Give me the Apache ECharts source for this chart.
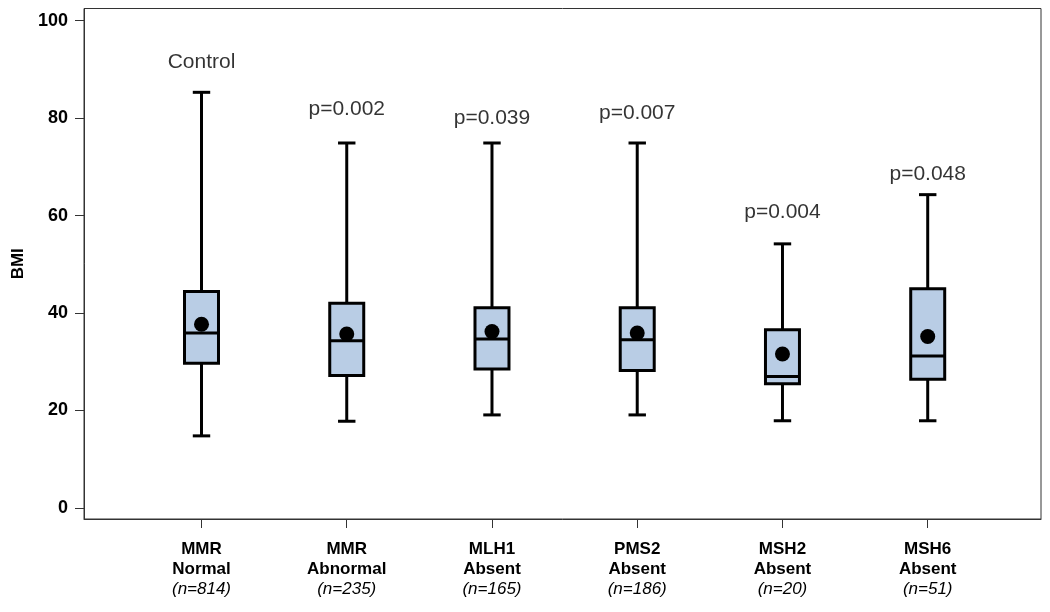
<!DOCTYPE html>
<html>
<head>
<meta charset="utf-8">
<script src="https://cdn.jsdelivr.net/npm/echarts@6/dist/echarts.min.js"></script>
<style>
html,body{margin:0;padding:0;background:#fff;}
#chart{width:1050px;height:612px;}
</style>
</head>
<body>
<div id="chart"></div>
<script>
// ---- data ----
const groupLine1 = ['MMR', 'MMR', 'MLH1', 'PMS2', 'MSH2', 'MSH6'];
const groupLine2 = ['Normal', 'Abnormal', 'Absent', 'Absent', 'Absent', 'Absent'];
const nCounts = [814, 235, 165, 186, 20, 51];
const whiskerLow = [14.8, 17.8, 19.1, 19.1, 17.9, 17.9];
const q1 = [29.7, 27.2, 28.5, 28.2, 25.5, 26.4];
const median = [35.9, 34.3, 34.7, 34.5, 27.0, 31.2];
const q3 = [44.4, 42.0, 41.1, 41.1, 36.6, 45.0];
const whiskerHigh = [85.3, 74.9, 74.9, 74.9, 54.2, 64.3];
const means = [37.7, 35.7, 36.2, 35.9, 31.6, 35.2];
const pLabels = ['Control', 'p=0.002', 'p=0.039', 'p=0.007', 'p=0.004', 'p=0.048'];
const pLabelY = [91.4, 81.9, 80.0, 81.0, 60.8, 68.4];
const yTicks = [0, 20, 40, 60, 80, 100];

const idx = groupLine1.map((_, i) => i);
const boxData = idx.map(i => [i, whiskerLow[i], q1[i], median[i], q3[i], whiskerHigh[i]]);
const meanData = idx.map(i => [i, means[i]]);
const pData = idx.map(i => [i, pLabelY[i]]);

const FONT = '"Liberation Sans", Arial, sans-serif';
const chart = echarts.init(document.getElementById('chart'));

chart.setOption({
  animation: false,
  backgroundColor: '#fff',
  grid: { left: 84, right: 9, top: 8.5, bottom: 93, show: true, borderColor: '#333', borderWidth: 1, containLabel: false },
  xAxis: {
    type: 'value', min: -0.809, max: 5.78,
    splitLine: { show: false },
    axisLine: { show: true, onZero: false, lineStyle: { color: '#333', width: 1 } },
    axisTick: { show: true, customValues: idx, length: 9, inside: false, lineStyle: { color: '#333' } },
    axisLabel: {
      customValues: idx, margin: 20,
      formatter: function (v) {
        const i = Math.round(v);
        return '{b|' + groupLine1[i] + '}\n{b|' + groupLine2[i] + '}\n{it|(n=' + nCounts[i] + ')}';
      },
      rich: {
        b: { fontFamily: FONT, fontWeight: 'bold', fontSize: 17, lineHeight: 20, color: '#000', align: 'center' },
        it: { fontFamily: FONT, fontStyle: 'italic', fontSize: 17, lineHeight: 20, color: '#000', align: 'center' }
      }
    }
  },
  yAxis: {
    type: 'value', min: -2.26, max: 102.5,
    name: 'BMI', nameLocation: 'middle', nameGap: 47, nameRotate: 90,
    nameTextStyle: { fontFamily: FONT, fontWeight: 'bold', fontSize: 17, color: '#000' },
    splitLine: { show: false },
    axisLine: { show: true, onZero: false, lineStyle: { color: '#333', width: 1 } },
    axisTick: { show: true, customValues: yTicks, length: 9, lineStyle: { color: '#333' } },
    axisLabel: { customValues: yTicks, margin: 16, fontFamily: FONT, fontWeight: 'bold', fontSize: 18, color: '#000' }
  },
  series: [
    {
      type: 'custom',
      data: boxData,
      renderItem: function (params, api) {
        const x = api.value(0);
        const unit = api.size([1, 0])[0];
        const bw = unit * 0.234;
        const cw = unit * 0.12;
        const pLow = api.coord([x, api.value(1)]);
        const pQ1 = api.coord([x, api.value(2)]);
        const pMed = api.coord([x, api.value(3)]);
        const pQ3 = api.coord([x, api.value(4)]);
        const pHigh = api.coord([x, api.value(5)]);
        const cx = pQ1[0];
        const ls = { stroke: '#000', lineWidth: 3, fill: null };
        return {
          type: 'group',
          children: [
            { type: 'line', shape: { x1: cx, y1: pHigh[1], x2: cx, y2: pQ3[1] }, style: ls },
            { type: 'line', shape: { x1: cx, y1: pQ1[1], x2: cx, y2: pLow[1] }, style: ls },
            { type: 'line', shape: { x1: cx - cw / 2, y1: pHigh[1], x2: cx + cw / 2, y2: pHigh[1] }, style: ls },
            { type: 'line', shape: { x1: cx - cw / 2, y1: pLow[1], x2: cx + cw / 2, y2: pLow[1] }, style: ls },
            { type: 'rect', shape: { x: cx - bw / 2, y: pQ3[1], width: bw, height: pQ1[1] - pQ3[1] },
              style: { fill: '#b9cde5', stroke: '#000', lineWidth: 3 } },
            { type: 'line', shape: { x1: cx - bw / 2, y1: pMed[1], x2: cx + bw / 2, y2: pMed[1] }, style: ls }
          ]
        };
      },
      z: 2
    },
    {
      type: 'scatter', data: meanData, symbol: 'circle', symbolSize: 15,
      itemStyle: { color: '#000', opacity: 1 }, z: 3
    },
    {
      type: 'scatter', data: pData, symbolSize: 1, itemStyle: { color: 'rgba(0,0,0,0)' },
      label: {
        show: true, position: 'inside',
        formatter: function (p) { return pLabels[p.dataIndex]; },
        fontFamily: FONT, fontSize: 21, color: '#000', textBorderWidth: 0
      },
      z: 4
    }
  ]
});
</script>
</body>
</html>
